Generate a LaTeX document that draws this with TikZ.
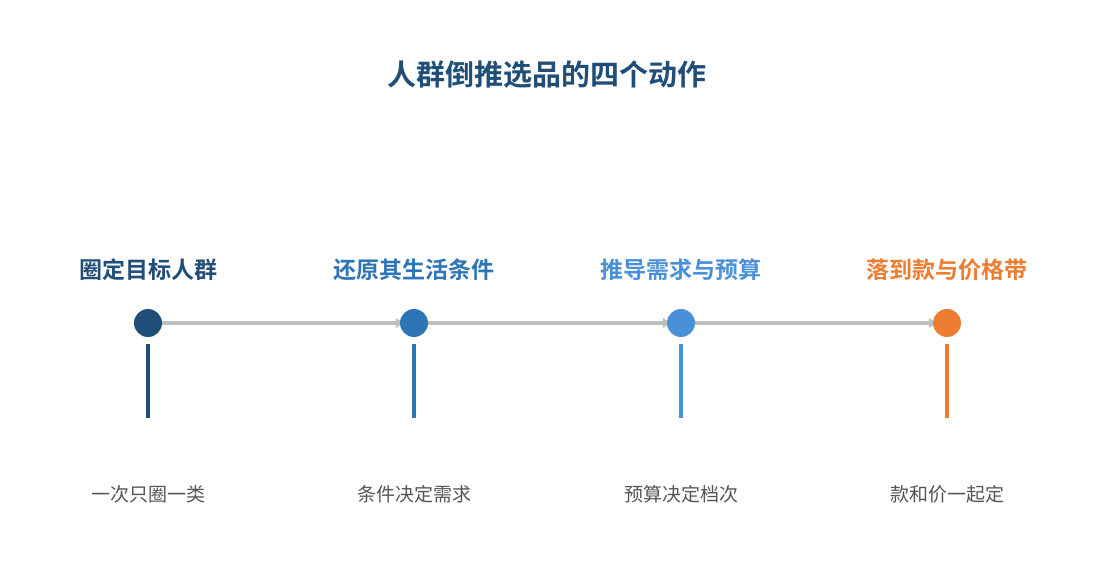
\documentclass[tikz,border=0pt]{standalone}
\usepackage{fontspec}
\setmainfont{Noto Sans CJK SC}[BoldFont={* Bold}]
\usetikzlibrary{arrows,arrows.meta}
\usetikzlibrary{calc,backgrounds}
\definecolor{pfeil}{RGB}{190,190,190}
\definecolor{navy}{RGB}{31,78,121}
\definecolor{midblue}{RGB}{46,117,182}
\definecolor{lightblue}{RGB}{74,144,217}
\definecolor{orange}{RGB}{237,125,49}
\definecolor{greytext}{RGB}{85,85,85}

\begin{document}
\begin{tikzpicture}[x=1pt, y=-1pt]
    \useasboundingbox (0,0) rectangle (1095,585);

    \node[font=\fontsize{29}{32}\selectfont\bfseries, navy] (title) at (547,75) {人群倒推选品的四个动作};

    % circles
    \node[circle, fill=navy, minimum size=28pt, inner sep=0pt] (c1) at (148,323) {};
    \node[circle, fill=midblue, minimum size=28pt, inner sep=0pt] (c2) at (414,323) {};
    \node[circle, fill=lightblue, minimum size=28pt, inner sep=0pt] (c3) at (681,323) {};
    \node[circle, fill=orange, minimum size=28pt, inner sep=0pt] (c4) at (947,323) {};

    \begin{pgfonlayer}{background}
        \draw[pfeil, line width=3.5pt, shorten >=-5pt, -{Latex[length=9pt, width=11pt]}] (c1) -- (c2);
        \draw[pfeil, line width=3.5pt, shorten >=-5pt, -{Latex[length=9pt, width=11pt]}] (c2) -- (c3);
        \draw[pfeil, line width=3.5pt, shorten >=-5pt, -{Latex[length=9pt, width=11pt]}] (c3) -- (c4);
    \end{pgfonlayer}

    % step titles
    \node[font=\fontsize{23}{27}\selectfont\bfseries, navy] (t1) at (148,270) {圈定目标人群};
    \node[font=\fontsize{23}{27}\selectfont\bfseries, midblue] (t2) at (414,270) {还原其生活条件};
    \node[font=\fontsize{23}{27}\selectfont\bfseries, lightblue] (t3) at (681,270) {推导需求与预算};
    \node[font=\fontsize{23}{27}\selectfont\bfseries, orange] (t4) at (947,270) {落到款与价格带};

    % bars
    \coordinate (b1) at (148,418);
    \coordinate (b2) at (414,418);
    \coordinate (b3) at (681,418);
    \coordinate (b4) at (947,418);
    \draw[navy, line width=4pt] ($(c1)+(0,21)$) -- (b1);
    \draw[midblue, line width=4pt] ($(c2)+(0,21)$) -- (b2);
    \draw[lightblue, line width=4pt] ($(c3)+(0,21)$) -- (b3);
    \draw[orange, line width=4pt] ($(c4)+(0,21)$) -- (b4);

    % notes
    \node[font=\fontsize{19}{22}\selectfont, greytext] (n1) at (148,494) {一次只圈一类};
    \node[font=\fontsize{19}{22}\selectfont, greytext] (n2) at (414,494) {条件决定需求};
    \node[font=\fontsize{19}{22}\selectfont, greytext] (n3) at (681,494) {预算决定档次};
    \node[font=\fontsize{19}{22}\selectfont, greytext] (n4) at (947,494) {款和价一起定};

\end{tikzpicture}
\end{document}
